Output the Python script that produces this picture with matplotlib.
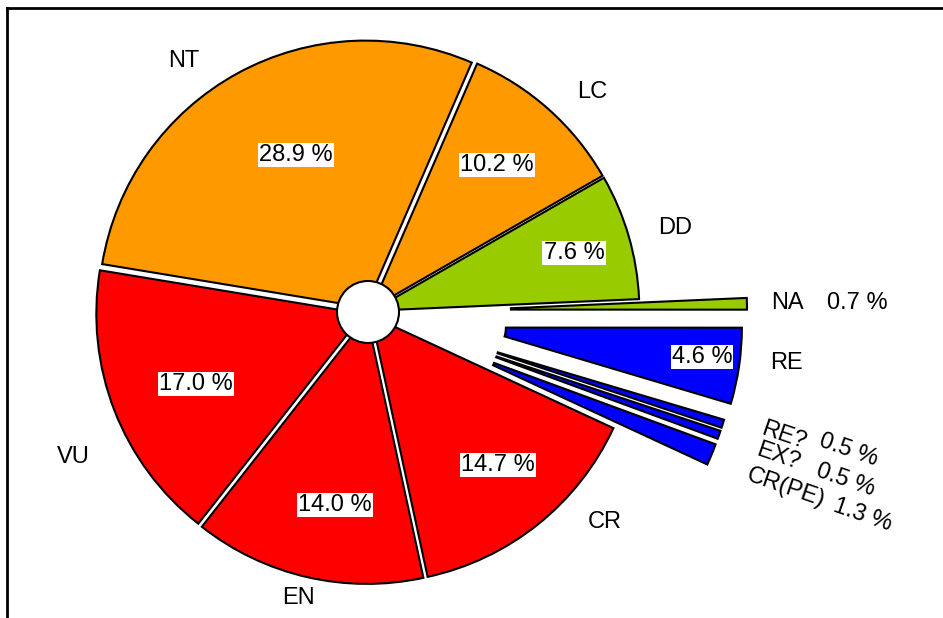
import matplotlib
matplotlib.use("Agg")
import matplotlib.pyplot as plt
from matplotlib.patches import Circle

plt.rcParams['font.family'] = ['Liberation Sans', 'DejaVu Sans']

# ---- data ----
categories = ["DD", "LC", "NT", "VU", "EN", "CR", "CR(PE)", "EX?", "RE?", "RE", "NA"]
values = [7.6, 10.2, 28.9, 17.0, 14.0, 14.7, 1.3, 0.5, 0.5, 4.6, 0.7]
pct_labels = ["7.6 %", "10.2 %", "28.9 %", "17.0 %", "14.0 %", "14.7 %",
              "1.3 %", "0.5 %", "0.5 %", "4.6 %", "0.7 %"]

# ---- styles ----
colors = ["#99CC00", "#FF9900", "#FF9900", "#FF0000", "#FF0000", "#FF0000",
          "#0000FF", "#0000FF", "#0000FF", "#0000FF", "#99CC00"]
explode = [4.5, 4.5, 5, 5, 5, 5, 105, 105, 105, 108, 112]
detached = [False] * 6 + [True] * 5

W, H = 943, 618
fig = plt.figure(figsize=(W / 100, H / 100), dpi=100)
ax = fig.add_axes([0, 0, 1, 1])

def Y(y):
    return H - y

R = 267
HOLE = 31
center = (368, Y(312))

wedges, _ = ax.pie(values, explode=explode, colors=colors, startangle=2.5,
                   radius=R, center=center, counterclock=True,
                   wedgeprops=dict(edgecolor="black", linewidth=1.5, width=R - HOLE))
for w, d in zip(wedges, detached):
    if not d:
        w.set_width(None)

ax.add_patch(Circle(center, HOLE, facecolor="white", edgecolor="black",
                    linewidth=1.5, zorder=5))

ax.set_xlim(0, W)
ax.set_ylim(0, H)
ax.set_aspect("equal")
ax.axis("off")

fs = 17
# category labels
name_pos = {"NT": (184, 61), "LC": (592, 92), "DD": (675, 228), "VU": (73, 457),
            "EN": (298, 598), "CR": (605, 522), "RE": (786, 363), "NA": (787, 303)}
for c in categories:
    if c in name_pos:
        x, y = name_pos[c]
        ax.text(x, Y(y), c, ha="center", va="center", fontsize=fs, zorder=6)

# percentage boxes inside wedges
box_pos = {"DD": (574, 253), "LC": (497, 165), "NT": (296, 155), "VU": (196, 384),
           "EN": (335, 505), "CR": (498, 465), "RE": (702, 357)}
for c, p in zip(categories, pct_labels):
    if c in box_pos:
        x, y = box_pos[c]
        ax.text(x, Y(y), p, ha="center", va="center", fontsize=fs, zorder=6,
                bbox=dict(boxstyle="square,pad=0.05", facecolor="white",
                          edgecolor="none"))

# NA percentage
ax.text(857, Y(303), pct_labels[categories.index("NA")], ha="center", va="center",
        fontsize=fs, zorder=6)

# rotated small-slice labels
rot_pos = {"RE?": ((784, 436), (849, 450)),
           "EX?": ((778, 457), (846, 480)),
           "CR(PE)": ((786, 488), (863, 515))}
for c, p in zip(categories, pct_labels):
    if c in rot_pos:
        (x1, y1), (x2, y2) = rot_pos[c]
        ax.text(x1, Y(y1), c, ha="center", va="center", fontsize=fs,
                rotation=-19, zorder=6)
        ax.text(x2, Y(y2), p, ha="center", va="center", fontsize=fs,
                rotation=-19, zorder=6)

# frame (top and left lines)
ax.plot([6.5, W], [Y(7.5), Y(7.5)], color="black", linewidth=2, clip_on=False)
ax.plot([6.5, 6.5], [Y(7.5), 0], color="black", linewidth=2, clip_on=False)

fig.savefig("out.png", dpi=100)
